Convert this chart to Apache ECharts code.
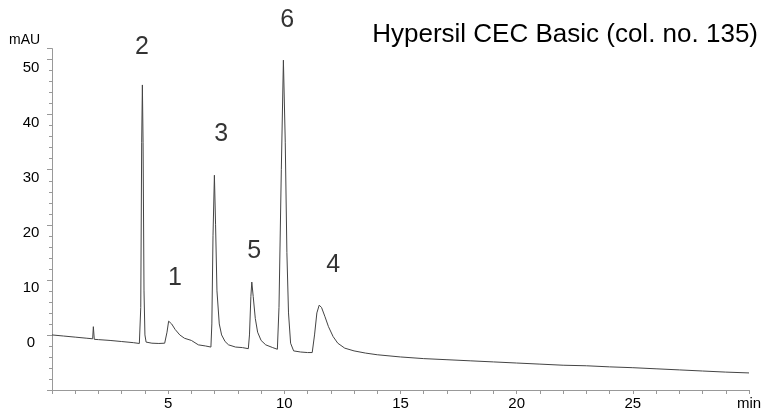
<!DOCTYPE html>
<html><head><meta charset="utf-8">
<script src="https://cdn.jsdelivr.net/npm/echarts@6/dist/echarts.min.js"></script>
<style>html,body{margin:0;padding:0;background:#fff}#c{width:768px;height:411px}</style>
</head><body><div id="c"></div>
<script>
// Retention time (min)
const times = [0.0,0.5,1.0,1.5,1.75,1.78,1.82,2.0,2.5,3.0,3.5,3.76,3.82,3.86,3.89,3.92,3.96,4.0,4.05,4.3,4.6,4.85,
  4.95,5.02,5.06,5.15,5.3,5.5,5.7,6.0,6.3,6.6,6.84,6.88,6.93,6.99,7.04,7.1,7.2,7.3,7.45,7.6,7.9,8.2,8.45,
  8.5,8.56,8.6,8.66,8.75,8.85,9.0,9.2,9.5,9.7,9.77,9.87,9.96,10.04,10.11,10.18,10.27,10.4,10.7,11.0,11.2,
  11.3,11.4,11.5,11.6,11.75,11.9,12.1,12.3,12.6,13.0,13.5,14.0,15.0,16.0,17.0,18.0,19.0,20.0,21.0,22.0,
  23.0,24.0,25.0,26.0,27.0,28.0,29.0,30.0];
// Absorbance (mAU)
const signal = [0.0,-0.2,-0.4,-0.6,-0.7,1.5,-0.8,-0.85,-1.0,-1.2,-1.4,-1.55,5,35,45.4,35,8,0,-1.3,-1.5,-1.55,-1.5,
  0.5,2.5,2.7,2.0,1.0,0.0,-0.6,-1.0,-1.8,-2.0,-2.2,2,18,29.0,20,8,2,0,-1.2,-1.8,-2.2,-2.3,-2.5,
  0,7,9.6,7,3,0.5,-1.0,-1.8,-2.3,-2.6,5,30,49.9,35,15,4,-1.5,-2.9,-3.1,-3.2,-3.2,
  0,4,5.4,5.0,3.3,1.5,-0.3,-1.5,-2.4,-2.9,-3.3,-3.6,-4.0,-4.3,-4.5,-4.7,-4.9,-5.1,-5.3,-5.5,
  -5.6,-5.8,-5.95,-6.15,-6.35,-6.55,-6.75,-6.9];
// Peak labels
const peakNames = ['2','1','3','5','6','4'];
const peakLabelX = [3.87,5.29,7.28,8.70,10.12,12.10];
const peakLabelY = [52.2,10.4,36.4,15.2,57.2,12.7];
// Axis labels
const xLabelValues = [5,10,15,20,25,30];
const xLabelTexts = ['5','10','15','20','25','min'];
const yLabelValues = [0,10,20,30,40,50];
const titleText = 'Hypersil CEC Basic (col. no. 135)';
const yUnit = 'mAU';

const FONT = '"Liberation Sans", Arial, sans-serif';
const chart = echarts.init(document.getElementById('c'), null, {renderer:'canvas'});
chart.setOption({
  animation: false,
  backgroundColor: '#fff',
  title: {
    text: titleText, right: 10, top: 20, padding: 0,
    textStyle: {fontSize: 26, fontWeight: 'normal', color: '#000', fontFamily: FONT, lineHeight: 30}
  },
  graphic: [{
    type: 'text', left: 9, top: 33,
    style: {text: yUnit, fontSize: 14, fill: '#000', fontFamily: FONT}
  }],
  grid: {left: 52, right: 19, top: 48.6, bottom: 19, containLabel: false},
  xAxis: {
    type: 'value', min: 0, max: 30, interval: 1,
    axisLine: {show: true, onZero: false, lineStyle: {color: '#999', width: 1}},
    axisTick: {show: true, length: 4, lineStyle: {color: '#999'}},
    splitLine: {show: false},
    axisLabel: {
      margin: 6, fontSize: 15, color: '#000', fontFamily: FONT,
      showMinLabel: true, showMaxLabel: true,
      formatter: function (v) {
        const i = xLabelValues.indexOf(Math.round(v * 100) / 100);
        return i >= 0 ? xLabelTexts[i] : '';
      }
    }
  },
  yAxis: {
    type: 'value', min: -10, max: 52, interval: 10,
    axisLine: {show: true, onZero: false, lineStyle: {color: '#999', width: 1}},
    axisTick: {show: true, length: 5, lineStyle: {color: '#999'}},
    minorTick: {show: true, splitNumber: 5, length: 3, lineStyle: {color: '#999'}},
    splitLine: {show: false},
    minorSplitLine: {show: false},
    axisLabel: {
      margin: 21, align: 'center', verticalAlign: 'top', lineHeight: 16,
      fontSize: 15, color: '#000', fontFamily: FONT,
      formatter: function (v) {
        return yLabelValues.indexOf(Math.round(v)) >= 0 && Math.abs(v - Math.round(v)) < 1e-6 ? String(Math.round(v)) : '';
      }
    }
  },
  series: [{
    type: 'line',
    data: times.map((t, i) => [t, signal[i]]),
    showSymbol: false, symbol: 'none',
    lineStyle: {color: '#444', width: 1},
    silent: true
  }, {
    type: 'scatter',
    clip: false,
    symbolSize: 0,
    data: peakNames.map((n, i) => ({name: n, value: [peakLabelX[i], peakLabelY[i]]})),
    label: {
      show: true, position: 'inside', formatter: '{b}',
      fontSize: 25, color: '#000', fontFamily: FONT
    },
    silent: true
  }]
});
</script></body></html>
